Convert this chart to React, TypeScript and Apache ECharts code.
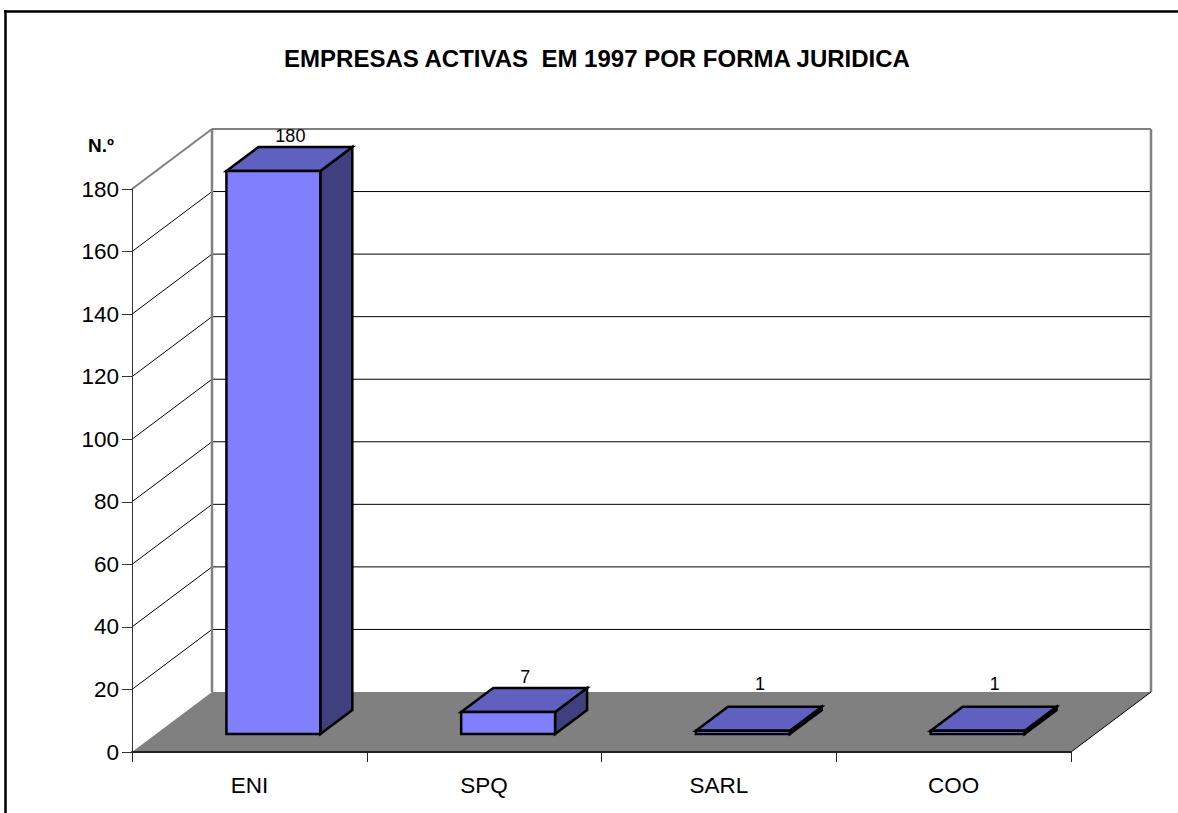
import React, { useEffect, useRef } from "react";
import * as echarts from "echarts";

const titleText = "EMPRESAS ACTIVAS  EM 1997 POR FORMA JURIDICA";
const unitLabel = "N.º";
const categories = ["ENI", "SPQ", "SARL", "COO"];
const values = [180, 7, 1, 1];
const gridValues = [20, 40, 60, 80, 100, 120, 140, 160];
const AXIS_MAX = 180;
const FONT = '"Liberation Sans", Arial, sans-serif';
const DEPTH_X = 80;
const DEPTH_Y = -60;

function shape(points: number[][], fill: string, stroke = "#000", lineWidth = 2.5) {
  return { type: "polygon", shape: { points }, style: { fill, stroke, lineWidth, lineJoin: "miter" } };
}
function seg(a: number[], b: number[], stroke: string, lineWidth: number) {
  return { type: "line", shape: { x1: a[0], y1: a[1], x2: b[0], y2: b[1] }, style: { stroke, lineWidth } };
}

export default function App() {
  const ref = useRef<HTMLDivElement>(null);
  useEffect(() => {
    document.body.style.margin = "0";
    const chart = echarts.init(ref.current!, undefined, { renderer: "svg" });
    chart.setOption({
      animation: false,
      backgroundColor: "#fff",
      title: {
        text: titleText,
        left: 592,
        top: 41,
        textAlign: "center",
        textStyle: { fontFamily: FONT, fontSize: 24, fontWeight: "bold", color: "#000" },
      },
      graphic: [
        { type: "line", shape: { x1: 5.5, y1: 10, x2: 5.5, y2: 813 }, style: { stroke: "#000", lineWidth: 2.5 } },
        { type: "line", shape: { x1: 4, y1: 11.5, x2: 1178, y2: 11.5 }, style: { stroke: "#000", lineWidth: 2.5 } },
        {
          type: "text",
          x: 88,
          y: 145,
          style: { text: unitLabel, fontFamily: FONT, fontSize: 19, fontWeight: "bold", fill: "#000", verticalAlign: "middle" },
        },
      ],
      grid: { left: 132, right: 107, top: 189, bottom: 61 },
      xAxis: {
        type: "category",
        data: categories,
        z: 5,
        axisLine: { lineStyle: { color: "#222", width: 2 } },
        axisTick: { show: true, length: 10, lineStyle: { color: "#222", width: 1 } },
        axisLabel: { fontFamily: FONT, fontSize: 22.5, color: "#000", margin: 22 },
      },
      yAxis: {
        type: "value",
        min: 0,
        max: AXIS_MAX,
        interval: 20,
        z: 5,
        splitLine: { show: false },
        axisLine: { show: true, lineStyle: { color: "#333", width: 1 } },
        axisTick: { show: true, length: 10, lineStyle: { color: "#333", width: 1 } },
        axisLabel: { fontFamily: FONT, fontSize: 22.5, color: "#000", margin: 13 },
      },
      series: [
        {
          type: "custom",
          coordinateSystem: "cartesian2d",
          silent: true,
          z: 1,
          data: [0],
          renderItem: (_p: any, api: any) => {
            const o = api.coord([0, 0]);
            const bw = api.size([1, 0])[0];
            const left = o[0] - bw / 2;
            const right = left + bw * categories.length;
            const y0 = o[1];
            const yTop = api.coord([0, AXIS_MAX])[1];
            const children: any[] = [];
            children.push(
              shape(
                [
                  [left, y0],
                  [right, y0],
                  [right + DEPTH_X, y0 + DEPTH_Y],
                  [left + DEPTH_X, y0 + DEPTH_Y],
                ],
                "#808080",
                "none",
                0
              )
            );
            gridValues.forEach((v) => {
              const y = api.coord([0, v])[1];
              children.push(seg([left, y], [left + DEPTH_X, y + DEPTH_Y], "#000", 1));
              children.push(seg([left + DEPTH_X, y + DEPTH_Y], [right + DEPTH_X, y + DEPTH_Y], "#000", 1));
            });
            const gray = "#808080";
            children.push(seg([left, yTop], [left + DEPTH_X, yTop + DEPTH_Y], gray, 2));
            children.push(seg([left + DEPTH_X, yTop + DEPTH_Y], [right + DEPTH_X, yTop + DEPTH_Y], gray, 2));
            children.push(seg([left + DEPTH_X, yTop + DEPTH_Y], [left + DEPTH_X, y0 + DEPTH_Y], gray, 2.5));
            children.push(seg([right + DEPTH_X, yTop + DEPTH_Y], [right + DEPTH_X, y0 + DEPTH_Y], gray, 2.5));
            children.push(seg([right, y0], [right + DEPTH_X, y0 + DEPTH_Y], "#000", 1));
            return { type: "group", children };
          },
        },
        {
          type: "custom",
          coordinateSystem: "cartesian2d",
          silent: true,
          z: 2,
          encode: { x: 0, y: 1 },
          data: values.map((v, i) => [i, v]),
          renderItem: (_p: any, api: any) => {
            const idx = api.value(0);
            const val = api.value(1);
            const c0 = api.coord([idx, 0]);
            const c1 = api.coord([idx, val]);
            const barW = api.size([1, 0])[0] / 2.5;
            const h = c0[1] - c1[1];
            const fx = c0[0] + DEPTH_X * 0.3 - barW / 2;
            const fy = c0[1] + DEPTH_Y * 0.3;
            const dx = DEPTH_X * 0.4;
            const dy = DEPTH_Y * 0.4;
            const top = fy - h;
            const labelY = Math.min(top + dy - 11, c0[1] + DEPTH_Y - 8);
            return {
              type: "group",
              children: [
                shape(
                  [
                    [fx + barW, fy],
                    [fx + barW + dx, fy + dy],
                    [fx + barW + dx, top + dy],
                    [fx + barW, top],
                  ],
                  "#404080"
                ),
                shape(
                  [
                    [fx, top],
                    [fx + barW, top],
                    [fx + barW + dx, top + dy],
                    [fx + dx, top + dy],
                  ],
                  "#6060C0"
                ),
                shape(
                  [
                    [fx, fy],
                    [fx + barW, fy],
                    [fx + barW, top],
                    [fx, top],
                  ],
                  "#8080FF"
                ),
                {
                  type: "text",
                  x: fx + barW / 2 + dx / 2 + 1,
                  y: labelY,
                  style: {
                    text: String(val),
                    fontFamily: FONT,
                    fontSize: 18,
                    fill: "#000",
                    align: "center",
                    verticalAlign: "middle",
                  },
                },
              ],
            };
          },
        },
      ],
    });
    return () => chart.dispose();
  }, []);
  return <div ref={ref} style={{ width: 1178, height: 813 }} />;
}
